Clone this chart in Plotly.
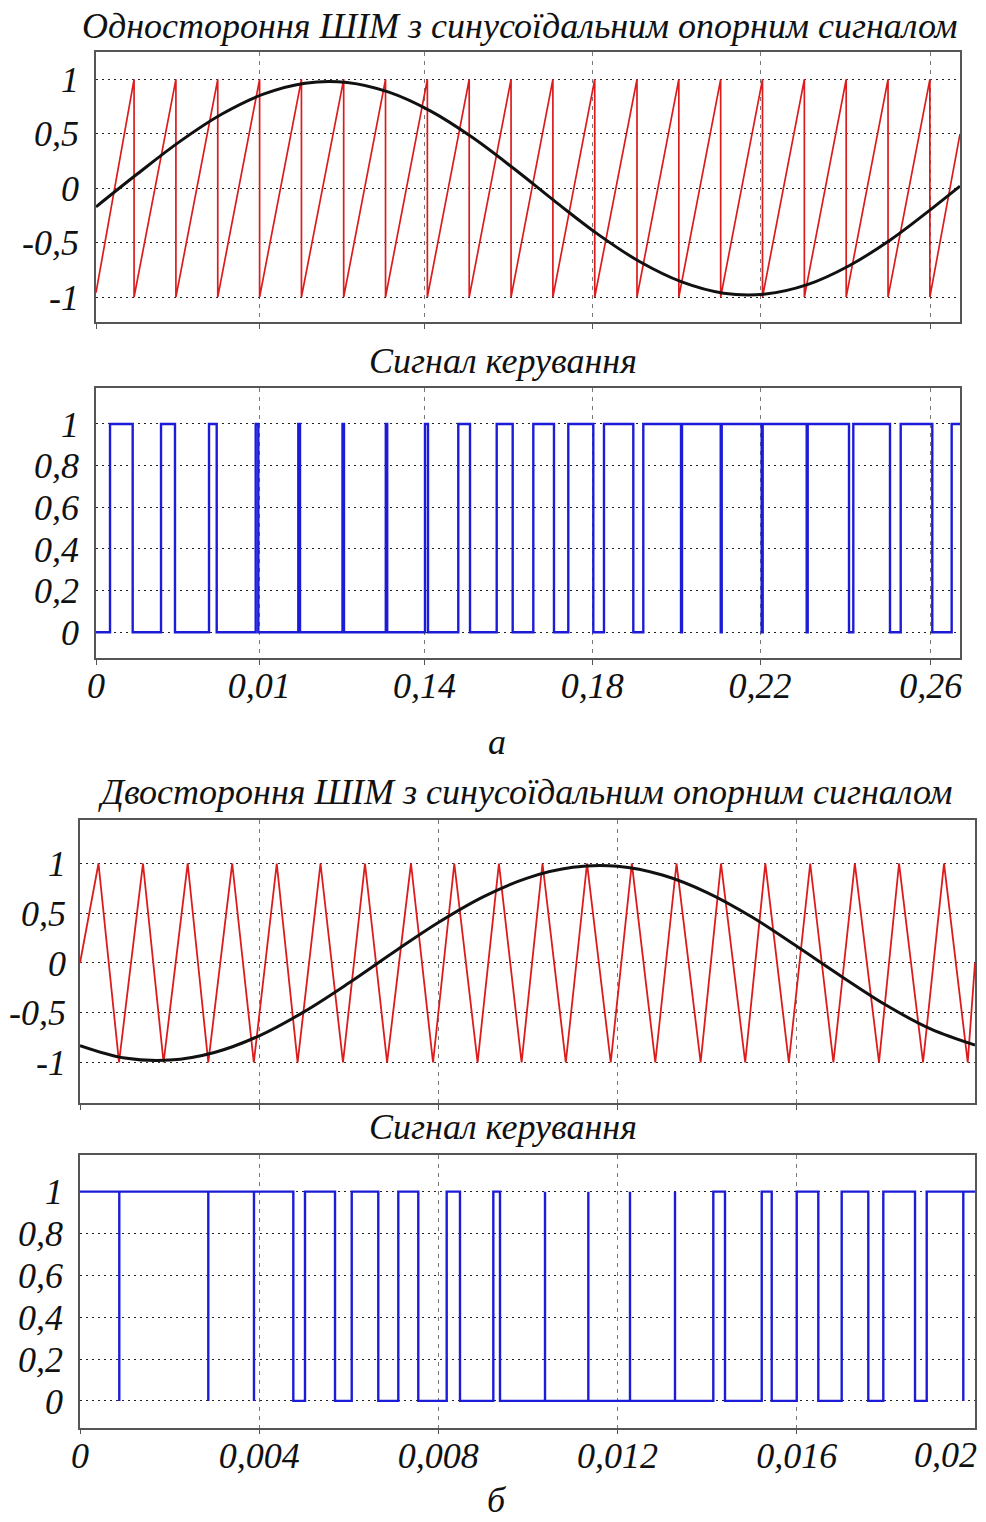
import plotly.graph_objects as go

W, H = 986, 1522

# ---------------- Panel "а": single-sided PWM (x in carrier periods) ----------------
a_tick_pos = [0, 3.90, 7.85, 11.86, 15.87, 19.95]
a_tick_text = ["0", "0,01", "0,14", "0,18", "0,22", "0,26"]
a_x_end = 20.65

a_carrier_start = -0.96
a_carrier_peaks = [0.91, 1.91, 2.91, 3.91, 4.91, 5.92, 6.92, 7.92, 8.92, 9.92,
                   10.92, 11.92, 12.93, 13.93, 14.93, 15.93, 16.93, 17.93, 18.93, 19.93]
a_carrier_end = 0.50

a_sine_x = [0, 1, 2, 3, 4, 5, 6, 7, 8, 9, 10, 11, 12, 13, 14, 15, 16, 17, 18, 19, 20, 20.65]
a_sine_y = [-0.171, 0.135, 0.428, 0.679, 0.864, 0.965, 0.971, 0.882, 0.708, 0.465, 0.176,
            -0.130, -0.424, -0.676, -0.861, -0.964, -0.972, -0.886, -0.712, -0.471, -0.180, 0.019]

a_ctrl_start = 0
a_ctrl_edges = [0.335, 0.877, 1.554, 1.888, 2.701, 2.885, 3.817, 3.879, 4.835, 4.876,
                5.891, 5.927, 6.926, 6.960, 7.863, 7.935, 8.659, 8.939, 9.577, 9.959,
                10.452, 10.946, 11.288, 11.886, 12.141, 12.842, 13.081, 13.982, 14.006,
                14.931, 14.955, 15.910, 15.934, 16.986, 17.010, 17.997, 18.100, 18.977,
                19.233, 19.988, 20.451]

# ---------------- Panel "б": double-sided PWM (x in ms) ----------------
b_tick_pos = [0, 4, 8, 12, 16]
b_tick_text = ["0", "0,004", "0,008", "0,012", "0,016"]
b_last_tick_text = "0,02"
b_x_end = 19.98

b_carrier_start = 0.0
b_carrier_peaks = [0.413, 1.406, 2.404, 3.398, 4.393, 5.369, 6.362, 7.389, 8.356, 9.352,
                   10.325, 11.319, 12.319, 13.317, 14.310, 15.299, 16.301, 17.297, 18.284, 19.288]
b_carrier_troughs = [0.871, 1.866, 2.864, 3.880, 4.858, 5.871, 6.856, 7.881, 8.876, 9.858,
                     10.845, 11.848, 12.843, 13.855, 14.850, 15.824, 16.819, 17.837, 18.820, 19.818]
b_carrier_end = 0.0

b_sine_t = [0, 1, 2, 3, 4, 5, 6, 7, 8, 9, 10, 11, 12, 13, 14, 15, 16, 17, 18, 19, 19.98]
b_sine_y = [-0.830, -0.955, -0.976, -0.899, -0.732, -0.491, -0.202, 0.108, 0.407, 0.665, 0.856,
            0.962, 0.972, 0.884, 0.708, 0.462, 0.168, -0.135, -0.425, -0.665, -0.825]

b_ctrl_start = 1
b_ctrl_edges = [0.877, 0.877, 2.864, 2.864, 3.884, 3.884, 4.762, 5.023, 5.693, 6.066,
                6.659, 7.106, 7.552, 8.186, 8.483, 9.227, 9.376, 10.381, 10.381, 11.348,
                11.348, 12.278, 12.278, 13.283, 13.283, 14.138, 14.399, 15.219, 15.442,
                16.000, 16.482, 17.004, 17.598, 17.933, 18.641, 18.902, 19.719, 19.719]

y_ref_ticks = [-1, -0.5, 0, 0.5, 1]
y_ref_text = ["-1", "-0,5", "0", "0,5", "1"]
y_ctrl_ticks = [0, 0.2, 0.4, 0.6, 0.8, 1]
y_ctrl_text = ["0", "0,2", "0,4", "0,6", "0,8", "1"]

titles = [
    ("Одностороння ШІМ з синусоїдальним опорним сигналом", 520, 26, "middle"),
    ("Сигнал керування", 503, 361, "middle"),
    ("а", 497, 742, "middle"),
    ("Двостороння ШІМ з синусоїдальним опорним сигналом", 525, 792, "middle"),
    ("Сигнал керування", 503, 1127, "middle"),
    ("б", 497, 1521, "bottom"),
]


# ---------------- helpers ----------------
def step_curve(start, edges, x0, x1):
    xs, ys, v = [x0], [start], start
    for e in edges:
        xs += [e, e]
        ys += [v, 1 - v]
        v = 1 - v
    xs.append(x1)
    ys.append(v)
    return xs, ys


def sawtooth(start, peaks, end, x1):
    xs, ys = [0], [start]
    for p in peaks:
        xs += [p, p]
        ys += [1, -1]
    xs.append(x1)
    ys.append(end)
    return xs, ys


def triangle(start, peaks, troughs, end, x1):
    pts = [(0, start)] + [(p, 1) for p in peaks] + [(q, -1) for q in troughs]
    pts.sort()
    pts.append((x1, end))
    return [p[0] for p in pts], [p[1] for p in pts]


RED = "#dc1c1c"
BLACK = "#111111"
BLUE = "#1c1cd8"
FONT = dict(family="Liberation Serif, Times New Roman, serif", size=36, color="#111111", style="italic")

fig = go.Figure()

cx, cy = sawtooth(a_carrier_start, a_carrier_peaks, a_carrier_end, a_x_end)
fig.add_trace(go.Scatter(x=cx, y=cy, mode="lines", line=dict(color=RED, width=1.7),
                         xaxis="x", yaxis="y", hoverinfo="skip"))
fig.add_trace(go.Scatter(x=a_sine_x, y=a_sine_y, mode="lines", line=dict(color=BLACK, width=3, shape="spline"),
                         xaxis="x", yaxis="y"))
sx, sy = step_curve(a_ctrl_start, a_ctrl_edges, 0, a_x_end)
fig.add_trace(go.Scatter(x=sx, y=sy, mode="lines", line=dict(color=BLUE, width=2.4),
                         xaxis="x2", yaxis="y2"))

tx, ty = triangle(b_carrier_start, b_carrier_peaks, b_carrier_troughs, b_carrier_end, b_x_end)
fig.add_trace(go.Scatter(x=tx, y=ty, mode="lines", line=dict(color=RED, width=1.8),
                         xaxis="x3", yaxis="y3"))
fig.add_trace(go.Scatter(x=b_sine_t, y=b_sine_y, mode="lines", line=dict(color=BLACK, width=3, shape="spline"),
                         xaxis="x3", yaxis="y3"))
sx2, sy2 = step_curve(b_ctrl_start, b_ctrl_edges, 0, b_x_end)
fig.add_trace(go.Scatter(x=sx2, y=sy2, mode="lines", line=dict(color=BLUE, width=2.4),
                         xaxis="x4", yaxis="y4"))


def xdom(l, r):
    return [l / W, r / W]


def ydom(top, bottom):
    return [1 - bottom / H, 1 - top / H]


xcommon = dict(showline=True, mirror=True, linecolor="#555555", linewidth=1.6,
               showgrid=True, gridcolor="#777777", griddash="4px,5px", gridwidth=1,
               ticks="outside", ticklen=5, tickcolor="#555555", zeroline=False,
               tickfont=FONT, tickmode="array", automargin=False, ticklabelstandoff=-10)
ycommon = dict(showline=True, mirror=True, linecolor="#555555", linewidth=1.6,
               showgrid=True, gridcolor="#222222", griddash="2px,4px", gridwidth=1.4,
               ticks="", zeroline=False, tickfont=FONT, tickmode="array",
               ticklabelstandoff=8, automargin=False)

fig.update_layout(
    width=W, height=H, margin=dict(l=0, r=0, t=0, b=0, autoexpand=False),
    paper_bgcolor="white", plot_bgcolor="white", showlegend=False,
    xaxis=dict(xcommon, domain=xdom(96, 960), range=[0, a_x_end], tickvals=a_tick_pos,
               showticklabels=False, anchor="y"),
    yaxis=dict(ycommon, domain=ydom(51.7, 322), range=[-1.229, 1.254], tickvals=y_ref_ticks,
               ticktext=y_ref_text, anchor="x"),
    xaxis2=dict(xcommon, domain=xdom(96, 960), range=[0, a_x_end], tickvals=a_tick_pos,
                ticktext=a_tick_text, anchor="y2"),
    yaxis2=dict(ycommon, domain=ydom(387.7, 658.3), range=[-0.125, 1.174], tickvals=y_ctrl_ticks,
                ticktext=y_ctrl_text, anchor="x2"),
    xaxis3=dict(xcommon, domain=xdom(80, 975), range=[0, b_x_end], tickvals=b_tick_pos,
                showticklabels=False, anchor="y3"),
    yaxis3=dict(ycommon, domain=ydom(820, 1103), range=[-1.407, 1.437], tickvals=y_ref_ticks,
                ticktext=y_ref_text, anchor="x3", ticklabelstandoff=5),
    xaxis4=dict(xcommon, domain=xdom(80, 975), range=[0, b_x_end], tickvals=b_tick_pos,
                ticktext=b_tick_text, anchor="y4"),
    yaxis4=dict(ycommon, domain=ydom(1155, 1427.5), range=[-0.127, 1.175], tickvals=y_ctrl_ticks,
                ticktext=y_ctrl_text, anchor="x4"),
)

annotations = []
for text, px, py, ya in titles:
    annotations.append(dict(text=text, x=px / W, y=1 - py / H, xref="paper", yref="paper",
                            xanchor="center", yanchor=ya, showarrow=False, font=FONT,
                            borderpad=0))
annotations.append(dict(text=b_last_tick_text, x=979 / W, y=1 - 1455 / H, xref="paper", yref="paper",
                        xanchor="right", yanchor="middle", showarrow=False, font=FONT))
fig.update_layout(annotations=annotations)

fig.write_html("out.html")
